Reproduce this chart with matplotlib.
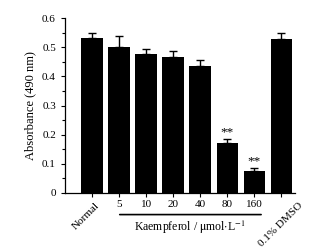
import numpy as np
import matplotlib
matplotlib.use("Agg")
import matplotlib.pyplot as plt
from matplotlib.ticker import MultipleLocator, FuncFormatter

plt.rcParams['font.family'] = ['Liberation Serif', 'DejaVu Serif']
plt.rcParams['mathtext.fontset'] = 'stix'

groups = ["Normal", "5", "10", "20", "40", "80", "160", "0.1% DMSO"]
absorbance = [0.533, 0.500, 0.476, 0.466, 0.437, 0.172, 0.077, 0.529]
errors = [0.015, 0.037, 0.017, 0.022, 0.020, 0.013, 0.009, 0.018]
signif = ["", "", "", "", "", "**", "**", ""]

fig = plt.figure(figsize=(3.3, 2.5), dpi=100)
ax = fig.add_axes([65 / 330, 1 - 193 / 250, 230 / 330, 175 / 250])

x = np.arange(len(groups))
ax.bar(x, absorbance, width=0.8, color="black", zorder=2)
ax.errorbar(x, absorbance, yerr=[np.zeros(len(errors)), errors], fmt="none",
            ecolor="black", elinewidth=1, capsize=3, capthick=1, zorder=1)

for i in range(len(groups)):
    if signif[i]:
        ax.text(x[i], absorbance[i] + errors[i] + 0.002, signif[i],
                ha="center", va="bottom", fontsize=9.5)

ax.set_xlim(-1, 7.5)
ax.set_ylim(0, 0.6)
ax.yaxis.set_major_locator(MultipleLocator(0.1))
ax.yaxis.set_minor_locator(MultipleLocator(0.05))
ax.yaxis.set_major_formatter(FuncFormatter(lambda v, p: "0" if abs(v) < 1e-9 else "%.1f" % v))
ax.set_xticks(x)
ax.set_xticklabels([])
ax.tick_params(axis="both", direction="out", length=3, width=0.8, labelsize=8)
ax.tick_params(axis="y", which="minor", length=2, width=0.8)
for s in ["top", "right"]:
    ax.spines[s].set_visible(False)
ax.spines["left"].set_linewidth(0.9)
ax.spines["bottom"].set_linewidth(0.9)

ax.set_ylabel("Absorbance (490 nm)", fontsize=9, labelpad=4)

# tick labels: numbers horizontal, end groups rotated
for i, lab in enumerate(groups):
    if i == 0:
        ax.annotate(lab, xy=(x[i], 0), xycoords="data", xytext=(2, -6),
                    textcoords="offset points", rotation=45, ha="right",
                    va="top", fontsize=8, rotation_mode="anchor")
    elif i == len(groups) - 1:
        ax.annotate(lab, xy=(x[i], 0), xycoords="data", xytext=(12, -6),
                    textcoords="offset points", rotation=45, ha="right",
                    va="top", fontsize=8, rotation_mode="anchor")
    else:
        ax.annotate(lab, xy=(x[i], 0), xycoords="data", xytext=(0, -5),
                    textcoords="offset points", ha="center", va="top",
                    fontsize=8)

# bracket line under the kaempferol concentrations
ax.annotate("", xy=(0.92, -0.074), xytext=(6.35, -0.074), xycoords="data",
            arrowprops=dict(arrowstyle="-", lw=1.2, color="black"),
            annotation_clip=False)
ax.text(3.6, -0.088, r"Kaempferol / $\mathrm{\mu}$mol$\cdot$L$^{-1}$",
        ha="center", va="top", fontsize=8.5, clip_on=False)

fig.savefig("out.png", dpi=100)
